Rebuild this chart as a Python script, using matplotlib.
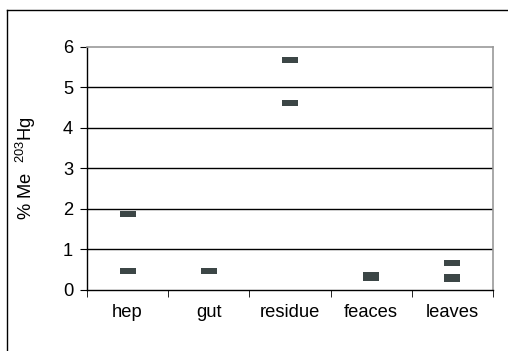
import matplotlib
matplotlib.use("Agg")
import matplotlib.pyplot as plt
from matplotlib.path import Path
from matplotlib.lines import Line2D

plt.rcParams['font.family'] = ['Liberation Sans', 'DejaVu Sans']
plt.rcParams['mathtext.default'] = 'regular'

categories = ["hep", "gut", "residue", "feaces", "leaves"]
series_a = [1.88, 0.46, 5.66, 0.30, 0.66]
series_b = [0.46, None, 4.61, 0.36, 0.26]
series_c = [None, None, None, None, 0.32]
y_ticks = [0, 1, 2, 3, 4, 5, 6]

FS = 13.2

fig = plt.figure(figsize=(5.08, 3.51), dpi=100)
ax = fig.add_axes([87/508, 1-290/351, (493-87)/508, (290-46.7)/351])

rect = Path([(-1, -0.38), (1, -0.38), (1, 0.38), (-1, 0.38), (-1, -0.38)],
            [Path.MOVETO, Path.LINETO, Path.LINETO, Path.LINETO, Path.CLOSEPOLY])
col = '#3c4646'
for series in (series_a, series_b, series_c):
    xs = [i for i, v in enumerate(series) if v is not None]
    ys = [v for v in series if v is not None]
    ax.plot(xs, ys, linestyle='none', marker=rect, markersize=11.3,
            color=col, markeredgewidth=0, zorder=3)

ax.set_xlim(-0.5, 4.5)
ax.set_ylim(0, 6)
ax.set_yticks(y_ticks)
ax.set_yticklabels([str(t) for t in y_ticks], fontsize=FS)
for t in y_ticks[1:-1]:
    ax.axhline(t, color='black', linewidth=1.0, zorder=1)

ax.set_xticks(range(len(categories)))
ax.set_xticklabels(categories, fontsize=FS)
ax.tick_params(axis='x', which='major', length=0, pad=10)
ax.set_xticks([i - 0.5 for i in range(len(categories) + 1)], minor=True)
ax.tick_params(axis='x', which='minor', length=5, direction='out', color='black')
ax.tick_params(axis='y', length=5, direction='out', pad=5, color='black')

for s in ('top', 'right'):
    ax.spines[s].set_color('#999999')
    ax.spines[s].set_linewidth(1.2)
ax.spines['left'].set_color('black')
ax.spines['bottom'].set_color('black')
ax.spines['left'].set_linewidth(1.0)
ax.spines['bottom'].set_linewidth(1.0)

ax.set_ylabel('% Me  $^{203}$Hg', fontsize=FS)
ax.yaxis.set_label_coords((38 - 87) / (493 - 87), 0.5)

# outer chart frame (top and left visible)
fig.add_artist(Line2D([7/508, 1.0], [1-10/351, 1-10/351], color='black', linewidth=1.0,
                      transform=fig.transFigure))
fig.add_artist(Line2D([7/508, 7/508], [0.0, 1-10/351], color='black', linewidth=1.0,
                      transform=fig.transFigure))

fig.savefig("out.png", dpi=100)
